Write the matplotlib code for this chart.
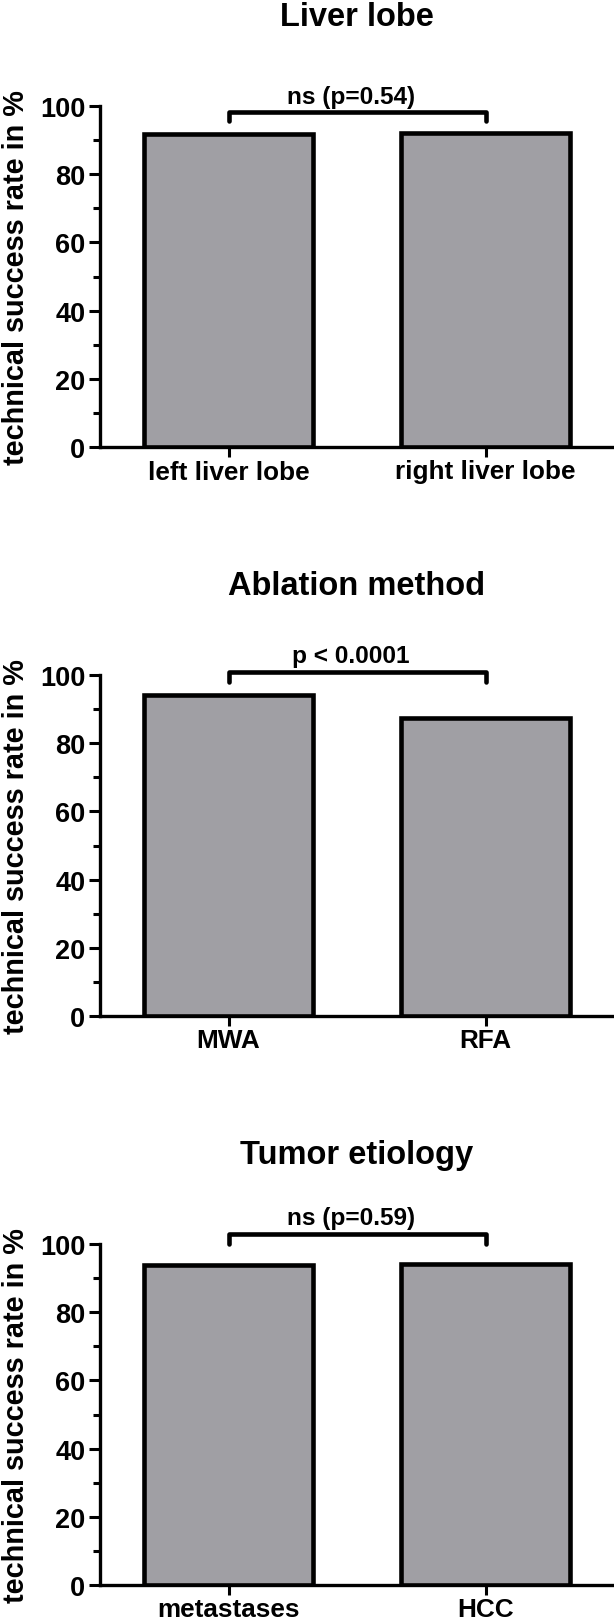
import matplotlib.pyplot as plt
from matplotlib.ticker import MultipleLocator

# values
titles = ['Liver lobe', 'Ablation method', 'Tumor etiology']
groups = [['left liver lobe', 'right liver lobe'],
          ['MWA', 'RFA'],
          ['metastases', 'HCC']]
rates = [[91.7, 92.2],
         [94.0, 87.4],
         [93.9, 94.2]]
p_labels = ['ns (p=0.54)', 'p < 0.0001', 'ns (p=0.59)']

# bracket heights (in % units) for the p-value annotation
bracket_top = [98.1, 100.9, 103.0]
bracket_end = [95.6, 98.0, 100.0]

plt.rcParams['font.family'] = ['Liberation Sans', 'DejaVu Sans']
plt.rcParams['font.weight'] = 'bold'

W, H = 614, 1624
fig = plt.figure(figsize=(W / 100, H / 100), dpi=100)

# axes boxes in pixels: (left, top of y=100, bottom of y=0)
ax_left, ax_right = 100, 614
ax_tops = [107, 676, 1245]
ax_h = 341

for i in range(3):
    top = ax_tops[i]
    ax = fig.add_axes([ax_left / W, 1 - (top + ax_h) / H,
                       (ax_right - ax_left) / W, ax_h / H])
    x = [0, 1]
    ax.bar(x, rates[i], width=0.66, color='#a09fa4', edgecolor='black',
           linewidth=3.3, zorder=3)
    ax.set_xlim(-0.5, 1.5)
    ax.set_ylim(0, 100)
    ax.set_xticks(x)
    ax.set_xticklabels(groups[i])
    ax.yaxis.set_major_locator(MultipleLocator(20))
    ax.yaxis.set_minor_locator(MultipleLocator(10))
    for s in ['top', 'right']:
        ax.spines[s].set_visible(False)
    for s in ['left', 'bottom']:
        ax.spines[s].set_linewidth(2.4)
    ax.tick_params(axis='y', which='major', length=8, width=2.2, pad=2.5,
                   labelsize=19.5)
    ax.tick_params(axis='y', which='minor', length=4.7, width=2.2)
    ax.tick_params(axis='x', length=7.5, width=2.2, pad=1.5, labelsize=18.8)

    # significance bracket
    ax.plot([0, 0, 1, 1], [bracket_end[i], bracket_top[i], bracket_top[i], bracket_end[i]],
            color='black', lw=3.3, clip_on=False, solid_capstyle='round',
            solid_joinstyle='round', zorder=4)
    ax.text(0.475, bracket_top[i] + 1.3, p_labels[i], ha='center', va='bottom',
            fontsize=17.6, fontweight='bold', clip_on=False)

    # title, baseline 81 px above the axes top
    fig.text((ax_left + ax_right) / 2 / W, 1 - (top - 81) / H, titles[i],
             ha='center', va='baseline', fontsize=23.5, fontweight='bold')
    # y label
    fig.text(24 / W, 1 - (top + ax_h / 2) / H, 'technical success rate in %',
             rotation=90, rotation_mode='anchor', ha='center', va='baseline',
             fontsize=20.8, fontweight='bold')

fig.savefig('out.png', dpi=100)
